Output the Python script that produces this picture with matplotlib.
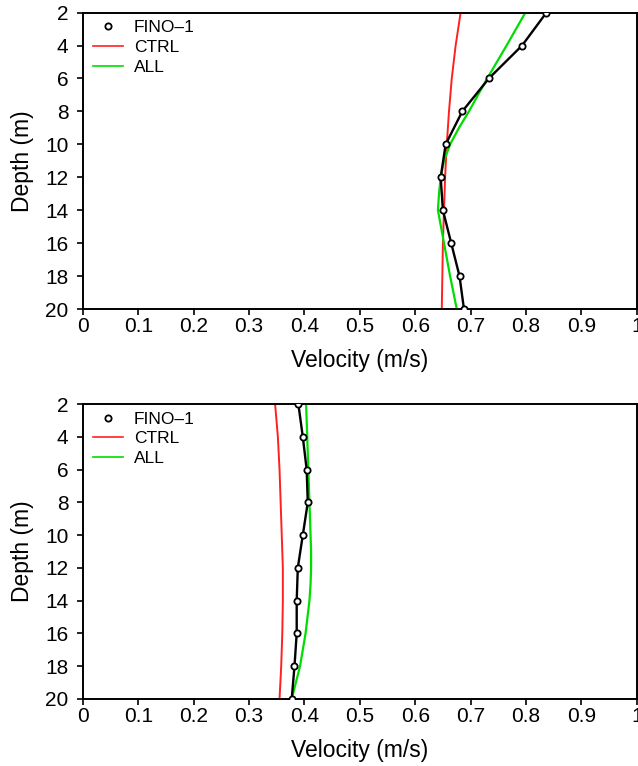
import numpy as np
import matplotlib.pyplot as plt

plt.rcParams['font.family'] = ['Liberation Sans', 'DejaVu Sans']

# observed depths (m)
obs_depth = [2, 4, 6, 8, 10, 12, 14, 16, 18, 20]
# model depths (m)
mod_depth = [2, 4, 6, 8, 9, 10, 11, 12, 13, 14, 16, 18, 20]
ctrl_depth = [2, 4, 6, 8, 10, 12, 14, 16, 18, 20]

# panel 1
fino_top = [0.837, 0.793, 0.733, 0.685, 0.655, 0.646, 0.650, 0.665, 0.680, 0.688]
ctrl_top = [0.682, 0.673, 0.666, 0.661, 0.657, 0.654, 0.652, 0.650, 0.649, 0.648]
all_top = [0.799, 0.765, 0.730, 0.697, 0.679, 0.663, 0.652, 0.646, 0.643, 0.641, 0.652, 0.663, 0.675]

# panel 2
fino_bot = [0.389, 0.397, 0.404, 0.406, 0.397, 0.388, 0.386, 0.386, 0.382, 0.377]
ctrl_bot = [0.347, 0.352, 0.355, 0.357, 0.359, 0.361, 0.361, 0.360, 0.358, 0.355]
all_bot = [0.403, 0.405, 0.407, 0.409, 0.410, 0.411, 0.412, 0.412, 0.411, 0.409, 0.402, 0.392, 0.377]

xticks = [0, 0.1, 0.2, 0.3, 0.4, 0.5, 0.6, 0.7, 0.8, 0.9, 1]
xtick_labels = ['0', '0.1', '0.2', '0.3', '0.4', '0.5', '0.6', '0.7', '0.8', '0.9', '1']
yticks = [2, 4, 6, 8, 10, 12, 14, 16, 18, 20]

fig = plt.figure(figsize=(6.38, 7.66), dpi=100)
ax1 = fig.add_axes([0.130, 0.5966, 0.868, 0.387])
ax2 = fig.add_axes([0.130, 0.0875, 0.868, 0.385])

panels = [(ax1, fino_top, ctrl_top, all_top), (ax2, fino_bot, ctrl_bot, all_bot)]
for ax, fino, ctrl, alld in panels:
    ax.plot(ctrl, ctrl_depth, color='#ff2020', lw=1.4)
    ax.plot(alld, mod_depth, color='#00dd00', lw=1.6)
    ax.plot(fino, obs_depth, color='black', lw=1.7, marker='o', ms=4.5,
            mfc='white', mec='black', mew=1.3, zorder=3)
    # legend handles
    ax.plot([], [], ls='none', marker='o', ms=4.5, mfc='white', mec='black',
            mew=1.3, label='FINO\u20131')
    ax.plot([], [], color='#ff2020', lw=1.2, label='CTRL')
    ax.plot([], [], color='#00dd00', lw=1.2, label='ALL')

    ax.set_xlim(0, 1)
    ax.set_ylim(20, 2)
    ax.set_xticks(xticks)
    ax.set_xticklabels(xtick_labels)
    ax.set_yticks(yticks)
    ax.tick_params(direction='out', length=4.5, width=1.2, labelsize=15)
    ax.tick_params(axis='x', pad=1.5)
    ax.tick_params(axis='y', pad=6)
    for s in ax.spines.values():
        s.set_linewidth(1.4)
    ax.set_xlabel('Velocity (m/s)', fontsize=16.5, labelpad=9)
    ax.set_ylabel('Depth (m)', fontsize=16.5, labelpad=8)
    ax.legend(loc='upper left', bbox_to_anchor=(0.018, 0.975), frameon=False,
              fontsize=12.5, handlelength=1.72, handletextpad=0.65,
              labelspacing=0.27, borderaxespad=0, borderpad=0)

plt.savefig('out.png', dpi=100)
